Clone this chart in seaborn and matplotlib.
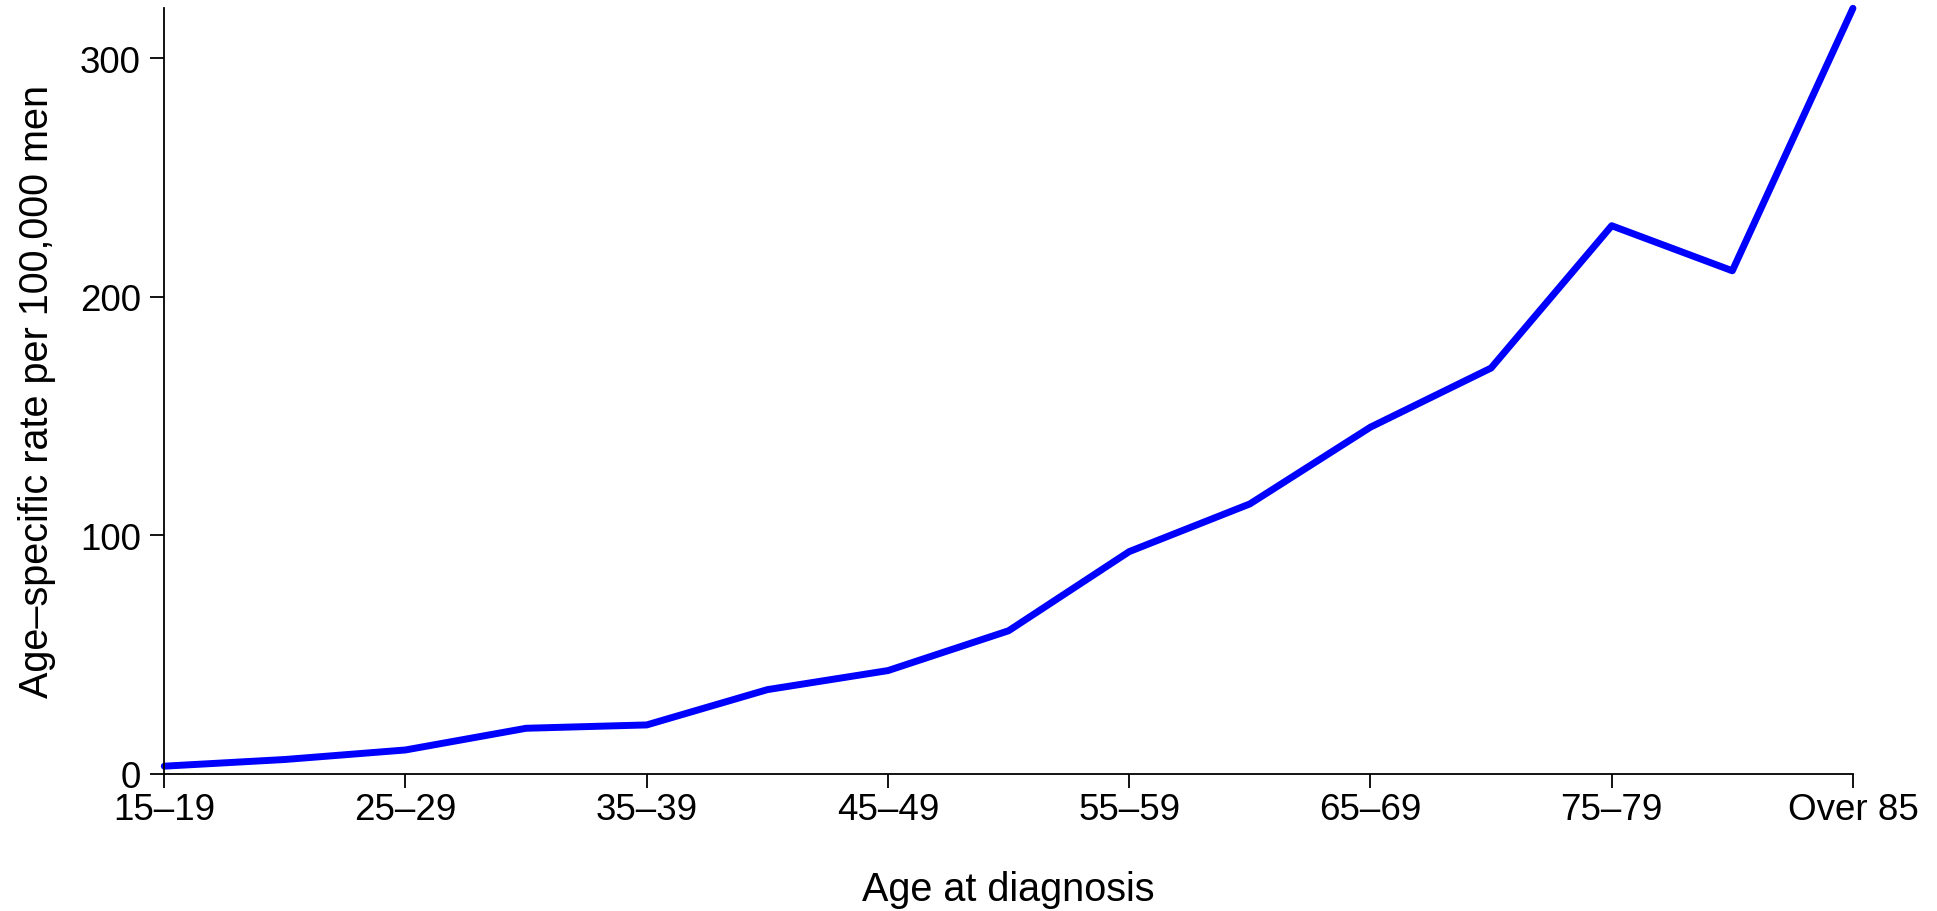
import numpy as np
import pandas as pd
import matplotlib
matplotlib.use("Agg")
import matplotlib.pyplot as plt
import seaborn as sns

# --- Dados ---
age_groups = ["15–19", "20–24", "25–29", "30–34", "35–39", "40–44", "45–49",
              "50–54", "55–59", "60–64", "65–69", "70–74", "75–79", "80–84",
              "Over 85"]
rates = [3.1, 5.9, 9.9, 19.0, 20.4, 35.2, 43.2, 59.9, 93.1, 113.1, 145.3,
         170.1, 229.8, 210.9, 321.0]
ytick_values = [0, 100, 200, 300]

df = pd.DataFrame({"pos": np.arange(len(age_groups)), "age": age_groups, "rate": rates})

sns.set_theme(style="ticks")
plt.rcParams["font.family"] = ["Liberation Sans", "DejaVu Sans"]

fig = plt.figure(figsize=(19.37, 9.12), dpi=100)
ax = fig.add_axes([0.0848, 0.1507, 0.9566 - 0.0848, 0.9898 - 0.1507])

# Linha azul das taxas por faixa etária
sns.lineplot(data=df, x="pos", y="rate", ax=ax, color="#0000FF", linewidth=5.0,
             sort=False, solid_capstyle="round", solid_joinstyle="round", clip_on=False)

ax.set_xlim(0, len(age_groups) - 1)
ax.set_ylim(0, max(rates))
ax.set_xticks(df["pos"][::2])
ax.set_xticklabels(age_groups[::2])
ax.set_yticks(ytick_values)

for side in ["top", "right"]:
    ax.spines[side].set_visible(False)
for side in ["left", "bottom"]:
    ax.spines[side].set_linewidth(1.3)
    ax.spines[side].set_color("black")

ax.tick_params(axis="both", length=10, width=1.3, color="black", labelsize=26.5, labelcolor="black")
ax.tick_params(axis="x", pad=3)
ax.tick_params(axis="y", pad=7)

ax.set_xlabel("Age at diagnosis", fontsize=28.5, labelpad=31, color="black")
ax.set_ylabel("Age–specific rate per 100,000 men", fontsize=28.5, labelpad=17, color="black")

fig.savefig("out.png", dpi=100)
